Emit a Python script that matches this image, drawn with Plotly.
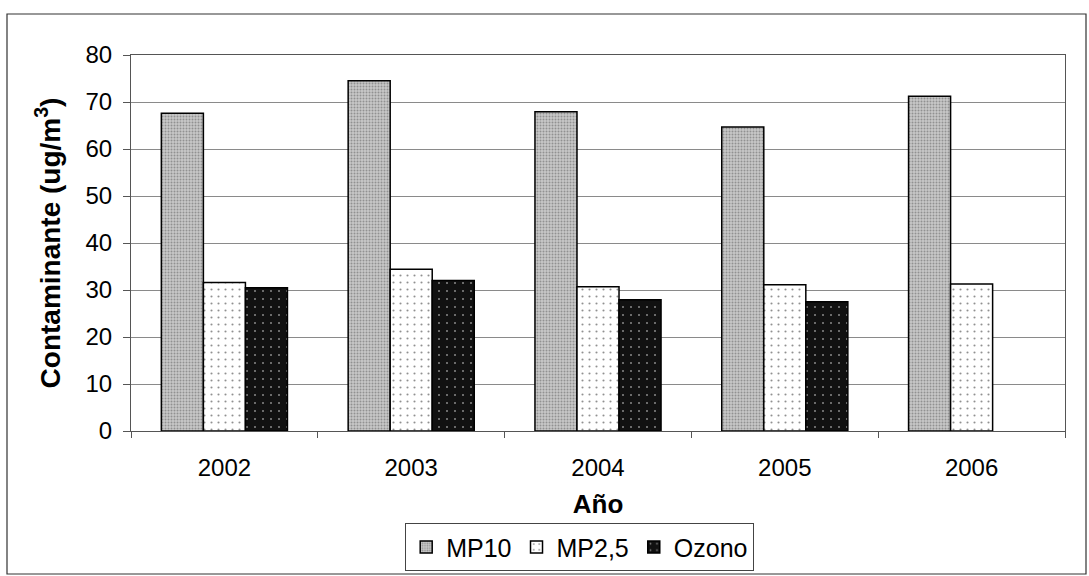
import plotly.graph_objects as go

years = ["2002", "2003", "2004", "2005", "2006"]
mp10 = [67.6, 74.5, 67.9, 64.7, 71.2]
mp25 = [31.6, 34.4, 30.7, 31.1, 31.3]
ozono = [30.5, 32.0, 27.9, 27.5, None]
y_ticks = [0, 10, 20, 30, 40, 50, 60, 70, 80]

W, H = 1089, 576
L, R, T, B = 131, 1065, 55, 431
pw, ph = R - L, B - T

def px_x(p):
    return (p - L) / pw

def px_y(p):
    return (B - p) / ph

font_fam = "Liberation Sans, Arial, sans-serif"

fig = go.Figure()
fig.add_trace(go.Bar(
    name="MP10", x=years, y=mp10,
    marker=dict(color="#c4c4c4", line=dict(color="black", width=1.5),
                pattern=dict(shape=".", fgcolor="#5a5a5a", bgcolor="#c8c8c8",
                             size=3, solidity=0.35, fillmode="overlay")),
))
fig.add_trace(go.Bar(
    name="MP2,5", x=years, y=mp25,
    marker=dict(color="white", line=dict(color="black", width=1.5),
                pattern=dict(shape=".", fgcolor="#222222", bgcolor="white",
                             size=7, solidity=0.07, fillmode="overlay")),
))
fig.add_trace(go.Bar(
    name="Ozono", x=years, y=ozono,
    marker=dict(color="#111111", line=dict(color="black", width=1.5),
                pattern=dict(shape=".", fgcolor="white", bgcolor="#111111",
                             size=8, solidity=0.05, fillmode="overlay")),
))

fig.update_layout(
    width=W, height=H,
    margin=dict(l=L, r=W - R, t=T, b=H - B, autoexpand=False),
    paper_bgcolor="white", plot_bgcolor="white",
    barmode="group", bargap=0.325, bargroupgap=0,
    font=dict(family=font_fam, size=24, color="black"),
    showlegend=True,
    legend=dict(orientation="h", x=px_x(405), y=px_y(523), xanchor="left", yanchor="top",
                bordercolor="#444444", borderwidth=1.2, bgcolor="white",
                font=dict(size=25), itemwidth=30, tracegroupgap=0),
    xaxis=dict(
        type="category", showgrid=False, showline=True, linecolor="#555555", linewidth=1,
        mirror=True, ticks="outside", tickson="boundaries", ticklen=6, tickcolor="#555555",
        tickfont=dict(size=24), ticklabelstandoff=15, automargin=False,
        title=dict(text="<b>Año</b>", font=dict(size=26), standoff=15),
    ),
    yaxis=dict(
        range=[0, 80], tickvals=y_ticks, showgrid=True, gridcolor="#8a8a8a", gridwidth=1,
        showline=True, linecolor="#555555", linewidth=1, mirror=True,
        ticks="outside", ticklen=7, tickcolor="#555555", tickfont=dict(size=24),
        ticklabelstandoff=6, zeroline=False, automargin=False,
        title=dict(text="<b>Contaminante (ug/m<sup>3</sup>)</b>", font=dict(size=28), standoff=16),
    ),
    shapes=[dict(type="rect", xref="paper", yref="paper",
                 x0=px_x(7), x1=px_x(1086), y0=px_y(574), y1=px_y(14),
                 line=dict(color="#333333", width=1.2), layer="below")],
)

fig.write_html("out.html")
